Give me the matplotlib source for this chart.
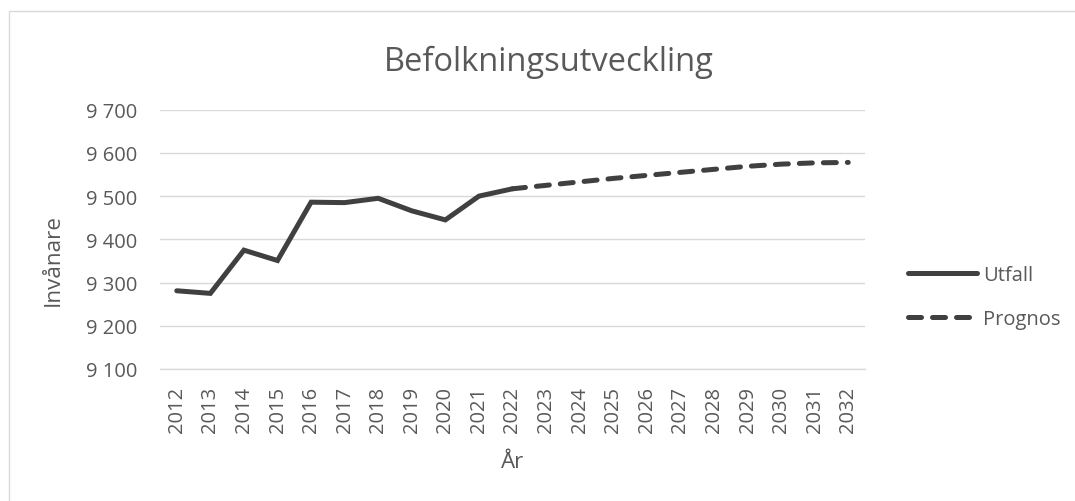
import matplotlib
matplotlib.use("Agg")
import matplotlib.pyplot as plt
from matplotlib.patches import Rectangle
from matplotlib.ticker import FuncFormatter, MultipleLocator

plt.rcParams['font.family'] = ['Open Sans', 'DejaVu Sans']

# data
years_utfall = [2012, 2013, 2014, 2015, 2016, 2017, 2018, 2019, 2020, 2021, 2022]
utfall = [9281, 9275, 9375, 9351, 9486, 9485, 9495, 9466, 9445, 9500, 9517]
years_prognos = [2022, 2023, 2024, 2025, 2026, 2027, 2028, 2029, 2030, 2031, 2032]
prognos = [9517, 9525, 9533, 9541, 9548, 9555, 9562, 9569, 9574, 9577, 9578]
year_labels = [str(y) for y in range(2012, 2033)]

LINE = '#404040'
TEXT = '#595959'
GRID = '#d9d9d9'

W, H = 1075, 502
fig = plt.figure(figsize=(W / 100, H / 100), dpi=100)
fig.patches.append(Rectangle((9 / W, -0.1), 1.2, 1 - 12 / H + 0.1, transform=fig.transFigure,
                             fill=False, edgecolor=GRID, linewidth=1.0))

ax = fig.add_axes([160 / W, 1 - 370 / H, 705 / W, (370 - 110.7) / H])

ax.plot(years_utfall, utfall, color=LINE, linewidth=3.6, solid_capstyle='round',
        solid_joinstyle='miter', label='Utfall', zorder=3)
ax.plot(years_prognos, prognos, color=LINE, linewidth=3.6, dashes=(2.6, 2.2),
        dash_capstyle='round', label='Prognos', zorder=3)

ax.set_xlim(2011.5, 2032.5)
ax.set_ylim(9100, 9700)
ax.yaxis.set_major_locator(MultipleLocator(100))
ax.yaxis.set_major_formatter(FuncFormatter(lambda v, p: f"{int(v):,}".replace(',', ' ')))
ax.set_xticks(range(2012, 2033))
ax.set_xticklabels(year_labels, rotation=90)

ax.grid(axis='y', color=GRID, linewidth=1.0)
ax.set_axisbelow(True)
for s in ['top', 'right', 'left']:
    ax.spines[s].set_visible(False)
ax.spines['bottom'].set_color(GRID)
ax.spines['bottom'].set_linewidth(1.0)
ax.tick_params(axis='both', length=0, labelsize=14.5, labelcolor=TEXT)
ax.tick_params(axis='y', pad=16.5)
ax.tick_params(axis='x', pad=12)

ax.set_ylabel('Invånare', fontsize=16.2, color=TEXT)
ax.yaxis.set_label_coords(-0.137, 0.424)
ax.set_xlabel('År', fontsize=16, color=TEXT, labelpad=14)
fig.text(549 / W, 1 - 62 / H, 'Befolkningsutveckling', ha='center', va='center',
         fontsize=23.5, color=TEXT)

ax.legend(loc='center left', bbox_to_anchor=(1.035, 0.278), frameon=False,
          fontsize=14.5, labelcolor=TEXT, handlelength=3.45, handletextpad=0.3,
          labelspacing=1.2)

fig.savefig('out.png', dpi=100)
